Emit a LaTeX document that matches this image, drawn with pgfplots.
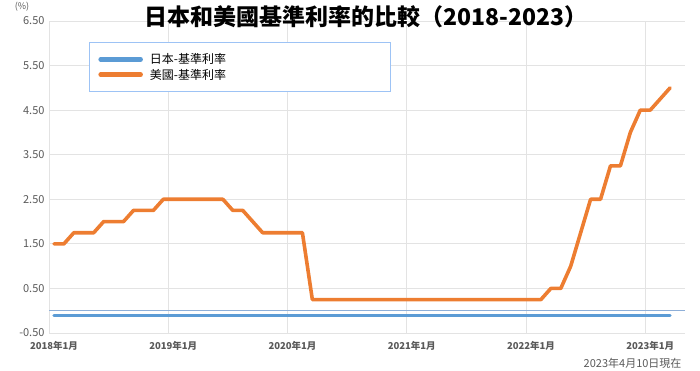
\documentclass[border=0pt]{standalone}
\usepackage{pgfplots}
\pgfplotsset{compat=1.18}
\usepackage{fontspec}
\setmainfont{Noto Sans CJK TC}
\definecolor{usorange}{HTML}{ED7D31}
\definecolor{jpblue}{HTML}{5B9BD5}
\definecolor{gridgray}{HTML}{E3E3E3}
\definecolor{labgray}{HTML}{595959}
\definecolor{legblue}{HTML}{9DC3F5}
\definecolor{zeroblue}{HTML}{8EAFD8}
\begin{document}
\begin{tikzpicture}[x=1pt,y=1pt]
\path[use as bounding box] (0,0) rectangle (700,370);
\begin{axis}[
  at={(49pt,37pt)}, anchor=south west,
  scale only axis, width=636pt, height=312pt,
  xmin=-0.5, xmax=63.5, ymin=-0.5, ymax=6.5,
  axis x line*=bottom, axis y line*=left,
  axis line style={draw=gridgray, line width=1pt, -},
  major tick length=0pt,
  ytick={-0.5,0.5,1.5,2.5,3.5,4.5,5.5,6.5},
  ymajorgrids, grid style={draw=gridgray, line width=1pt},
  yticklabel style={/pgf/number format/fixed, /pgf/number format/fixed zerofill, /pgf/number format/precision=2, font=\fontsize{11}{12}\selectfont, text=labgray, xshift=-1pt},
  /pgf/number format/assume math mode=true,
  xtick={0,12,24,36,48,60},
  xticklabels={2018年1月,2019年1月,2020年1月,2021年1月,2022年1月,2023年1月},
  xticklabel style={font=\fontsize{9.5}{11}\selectfont\bfseries, text=labgray, yshift=-5pt},
  extra x ticks={11.5,23.5,35.5,47.5,59.5},
  extra x tick labels={},
  extra x tick style={xmajorgrids=true, grid style={draw=gridgray, line width=1pt}},
  legend style={at={(0.0629,0.9327)}, anchor=north west, draw=legblue, line width=0.8pt,
    font=\fontsize{12}{14}\selectfont, inner xsep=9pt, inner ysep=10.5pt,
    row sep=2.5pt, nodes={inner ysep=0.6pt, inner xsep=3pt}},
  legend cell align=left,
  legend image code/.code={\draw[#1, line width=4.5pt] (0pt,0pt) -- (40pt,0pt);},
  clip=false,
]
\addplot[zeroblue, line width=0.8pt, forget plot] coordinates {(-0.5,0) (63.5,0)};
\addplot[jpblue, line width=3.2pt, line cap=round] coordinates {(0,-0.1) (62,-0.1)};
\addlegendentry{\makebox[232pt][l]{\hspace{4pt}日本-基準利率}}
\addplot[usorange, line width=3.6pt, line join=round, line cap=round] table {
x y
0 1.5
1 1.5
2 1.75
3 1.75
4 1.75
5 2.0
6 2.0
7 2.0
8 2.25
9 2.25
10 2.25
11 2.5
12 2.5
13 2.5
14 2.5
15 2.5
16 2.5
17 2.5
18 2.25
19 2.25
20 2.0
21 1.75
22 1.75
23 1.75
24 1.75
25 1.75
26 0.25
27 0.25
28 0.25
29 0.25
30 0.25
31 0.25
32 0.25
33 0.25
34 0.25
35 0.25
36 0.25
37 0.25
38 0.25
39 0.25
40 0.25
41 0.25
42 0.25
43 0.25
44 0.25
45 0.25
46 0.25
47 0.25
48 0.25
49 0.25
50 0.5
51 0.5
52 1.0
53 1.75
54 2.5
55 2.5
56 3.25
57 3.25
58 4.0
59 4.5
60 4.5
61 4.75
62 5.0
};
\addlegendentry{\hspace{4pt}美國-基準利率}
\end{axis}
\node[font=\fontsize{23}{26}\selectfont\bfseries] at (366,353) {日本和美國基準利率的比較（2018-2023）};
\node[font=\fontsize{9}{10}\selectfont, text=labgray] at (22,363) {(\%)};
\node[font=\fontsize{11}{12}\selectfont, text=labgray, anchor=east] at (685,7) {2023年4月10日現在};
\end{tikzpicture}
\end{document}
